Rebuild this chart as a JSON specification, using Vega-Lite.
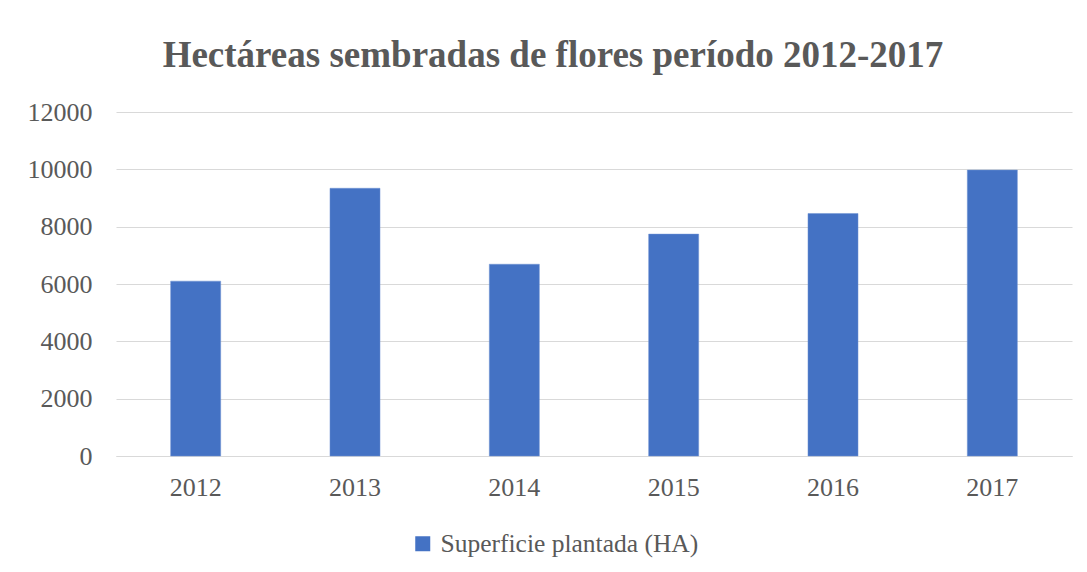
{
  "$schema": "https://vega.github.io/schema/vega-lite/v6.json",
  "autosize": {"type": "none"},
  "width": 956,
  "height": 344,
  "padding": {"left": 116, "top": 112, "right": 15, "bottom": 116},
  "background": "white",
  "title": {
    "text": "Hectáreas sembradas de flores período 2012-2017",
    "font": "Liberation Serif",
    "fontSize": 37,
    "fontWeight": "bold",
    "color": "#595959",
    "anchor": "middle",
    "dx": -41,
    "offset": 24
  },
  "data": {
    "values": [
      {"year": "2012", "serie": "Superficie plantada (HA)", "ha": 6100},
      {"year": "2013", "serie": "Superficie plantada (HA)", "ha": 9340},
      {"year": "2014", "serie": "Superficie plantada (HA)", "ha": 6690},
      {"year": "2015", "serie": "Superficie plantada (HA)", "ha": 7740},
      {"year": "2016", "serie": "Superficie plantada (HA)", "ha": 8460},
      {"year": "2017", "serie": "Superficie plantada (HA)", "ha": 9975}
    ]
  },
  "mark": {"type": "bar", "stroke": "#6f93d3", "strokeWidth": 0.5},
  "encoding": {
    "x": {
      "field": "year",
      "type": "nominal",
      "scale": {"paddingInner": 0.686, "paddingOuter": 0.343},
      "axis": {
        "title": null,
        "labelAngle": 0,
        "labelFont": "Liberation Serif",
        "labelFontSize": 26,
        "labelColor": "#595959",
        "labelPadding": 18,
        "ticks": false,
        "domainColor": "#d9d9d9",
        "domainWidth": 1
      }
    },
    "y": {
      "field": "ha",
      "type": "quantitative",
      "scale": {"domain": [0, 12000]},
      "axis": {
        "title": null,
        "values": [0, 2000, 4000, 6000, 8000, 10000, 12000],
        "format": "d",
        "labelFont": "Liberation Serif",
        "labelFontSize": 26,
        "labelColor": "#595959",
        "labelPadding": 24,
        "ticks": false,
        "domain": false,
        "gridColor": "#d9d9d9",
        "gridWidth": 1
      }
    },
    "color": {
      "field": "serie",
      "type": "nominal",
      "scale": {"range": ["#4472C4"]},
      "legend": {
        "title": null,
        "orient": "none",
        "legendX": 294,
        "legendY": 419,
        "symbolType": "square",
        "symbolSize": 225,
        "symbolStrokeWidth": 0,
        "labelFont": "Liberation Serif",
        "labelFontSize": 25.5,
        "labelColor": "#595959",
        "labelOffset": 5,
        "labelLimit": 0
      }
    }
  },
  "config": {"view": {"stroke": null}}
}
